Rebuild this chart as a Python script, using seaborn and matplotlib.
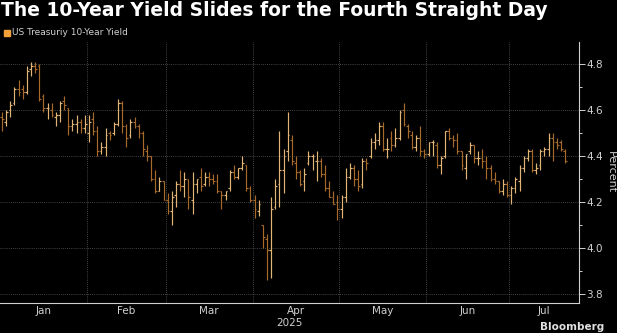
import matplotlib
matplotlib.use("Agg")
import matplotlib.pyplot as plt
from matplotlib.ticker import MultipleLocator, FixedLocator, FormatStrFormatter, NullFormatter
import matplotlib.transforms as mtransforms
import numpy as np
import pandas as pd
import seaborn as sns

# US 10-year Treasury yield, daily OHLC (percent), 2 Jan - 21 Jul 2025
dates = (
    ["2025-01-%02d" % d for d in [2, 3, 6, 7, 8, 9, 10, 13, 14, 15, 16, 17, 21, 22, 23, 24, 27, 28, 29, 30, 31]]
    + ["2025-02-%02d" % d for d in [3, 4, 5, 6, 7, 10, 11, 12, 13, 14, 18, 19, 20, 21, 24, 25, 26, 27, 28]]
    + ["2025-03-%02d" % d for d in [3, 4, 5, 6, 7, 10, 11, 12, 13, 14, 17, 18, 19, 20, 21, 24, 25, 26, 27, 28, 31]]
    + ["2025-04-%02d" % d for d in [1, 2, 3, 4, 7, 8, 9, 10, 11, 14, 15, 16, 17, 21, 22, 23, 24, 25, 28, 29, 30]]
    + ["2025-05-%02d" % d for d in [1, 2, 5, 6, 7, 8, 9, 12, 13, 14, 15, 16, 19, 20, 21, 22, 23, 27, 28, 29, 30]]
    + ["2025-06-%02d" % d for d in [2, 3, 4, 5, 6, 9, 10, 11, 12, 13, 16, 17, 18, 20, 23, 24, 25, 26, 27, 30]]
    + ["2025-07-%02d" % d for d in [1, 2, 3, 7, 8, 9, 10, 11, 14, 15, 16, 17, 18, 21]]
)

opens = [
    4.57, 4.55, 4.60, 4.63, 4.69, 4.69, 4.68, 4.78, 4.79, 4.79, 4.66, 4.61, 4.60, 4.57, 4.58, 4.64, 4.61, 4.53, 4.54, 4.55, 4.52,
    4.50, 4.56, 4.51, 4.42, 4.44, 4.50, 4.50, 4.54, 4.63, 4.53, 4.49, 4.55, 4.53, 4.50, 4.42, 4.40, 4.30, 4.25, 4.29,
    4.21, 4.16, 4.23, 4.28, 4.27, 4.30, 4.21, 4.28, 4.31, 4.28, 4.31, 4.30, 4.29, 4.25, 4.23, 4.26, 4.33, 4.31, 4.35, 4.36, 4.26,
    4.21, 4.16, 4.10, 4.04, 3.99, 4.18, 4.28, 4.34, 4.42, 4.47, 4.37, 4.33, 4.29, 4.37, 4.40, 4.38, 4.38, 4.32, 4.26, 4.22, 4.20,
    4.17, 4.22, 4.31, 4.35, 4.30, 4.28, 4.38, 4.40, 4.46, 4.47, 4.53, 4.43, 4.48, 4.45, 4.48, 4.60, 4.53, 4.49, 4.44, 4.48, 4.42,
    4.41, 4.46, 4.45, 4.36, 4.40, 4.51, 4.48, 4.47, 4.42, 4.35, 4.42, 4.45, 4.39, 4.39, 4.38, 4.35, 4.30, 4.29, 4.25, 4.28,
    4.23, 4.26, 4.29, 4.35, 4.39, 4.42, 4.34, 4.36, 4.42, 4.43, 4.48, 4.46, 4.46, 4.42,
]
highs = [
    4.59, 4.60, 4.64, 4.70, 4.73, 4.71, 4.79, 4.81, 4.81, 4.80, 4.67, 4.63, 4.63, 4.59, 4.64, 4.66, 4.61, 4.56, 4.58, 4.56, 4.58,
    4.58, 4.59, 4.53, 4.46, 4.52, 4.51, 4.55, 4.65, 4.64, 4.54, 4.56, 4.57, 4.54, 4.51, 4.45, 4.40, 4.34, 4.31, 4.29,
    4.24, 4.25, 4.29, 4.34, 4.33, 4.30, 4.33, 4.30, 4.35, 4.33, 4.33, 4.32, 4.32, 4.25, 4.25, 4.34, 4.36, 4.35, 4.40, 4.36, 4.27,
    4.23, 4.21, 4.10, 4.06, 4.22, 4.30, 4.51, 4.43, 4.59, 4.49, 4.40, 4.34, 4.35, 4.42, 4.41, 4.42, 4.39, 4.36, 4.29, 4.25, 4.23,
    4.23, 4.35, 4.37, 4.36, 4.34, 4.39, 4.39, 4.48, 4.50, 4.55, 4.55, 4.48, 4.51, 4.52, 4.60, 4.63, 4.54, 4.51, 4.49, 4.53, 4.43,
    4.46, 4.47, 4.46, 4.40, 4.51, 4.52, 4.49, 4.50, 4.42, 4.41, 4.46, 4.45, 4.42, 4.43, 4.40, 4.36, 4.33, 4.29, 4.30, 4.29,
    4.27, 4.31, 4.36, 4.40, 4.43, 4.43, 4.37, 4.43, 4.44, 4.50, 4.50, 4.48, 4.47, 4.43,
]
lows = [
    4.51, 4.53, 4.57, 4.62, 4.66, 4.65, 4.67, 4.75, 4.76, 4.64, 4.59, 4.56, 4.57, 4.53, 4.55, 4.60, 4.49, 4.51, 4.50, 4.50, 4.50,
    4.46, 4.49, 4.40, 4.41, 4.40, 4.47, 4.49, 4.53, 4.50, 4.44, 4.48, 4.52, 4.48, 4.40, 4.38, 4.29, 4.24, 4.25, 4.21,
    4.15, 4.10, 4.18, 4.25, 4.22, 4.17, 4.15, 4.24, 4.25, 4.27, 4.27, 4.28, 4.24, 4.17, 4.21, 4.25, 4.30, 4.30, 4.34, 4.25, 4.20,
    4.13, 4.14, 4.00, 3.86, 3.87, 4.17, 4.18, 4.24, 4.38, 4.36, 4.30, 4.27, 4.25, 4.36, 4.34, 4.29, 4.31, 4.25, 4.22, 4.19, 4.12,
    4.13, 4.20, 4.30, 4.27, 4.25, 4.26, 4.34, 4.39, 4.43, 4.45, 4.42, 4.39, 4.42, 4.44, 4.47, 4.53, 4.48, 4.43, 4.42, 4.40, 4.39,
    4.40, 4.40, 4.35, 4.32, 4.39, 4.47, 4.44, 4.41, 4.34, 4.30, 4.41, 4.37, 4.36, 4.35, 4.30, 4.29, 4.28, 4.24, 4.23, 4.22,
    4.19, 4.24, 4.25, 4.33, 4.38, 4.33, 4.32, 4.34, 4.40, 4.40, 4.38, 4.43, 4.42, 4.37,
]
closes = [
    4.56, 4.59, 4.62, 4.69, 4.68, 4.68, 4.77, 4.79, 4.78, 4.65, 4.61, 4.61, 4.58, 4.58, 4.63, 4.62, 4.53, 4.54, 4.55, 4.52, 4.54,
    4.55, 4.51, 4.42, 4.44, 4.49, 4.49, 4.54, 4.63, 4.53, 4.48, 4.55, 4.53, 4.50, 4.43, 4.40, 4.30, 4.25, 4.29, 4.21,
    4.16, 4.22, 4.28, 4.27, 4.30, 4.22, 4.28, 4.30, 4.27, 4.31, 4.30, 4.29, 4.25, 4.23, 4.25, 4.33, 4.31, 4.35, 4.37, 4.26, 4.21,
    4.17, 4.19, 4.05, 3.99, 4.17, 4.27, 4.34, 4.40, 4.49, 4.38, 4.33, 4.28, 4.32, 4.40, 4.40, 4.38, 4.32, 4.26, 4.22, 4.19, 4.17,
    4.22, 4.31, 4.35, 4.30, 4.27, 4.38, 4.37, 4.46, 4.47, 4.53, 4.43, 4.43, 4.45, 4.48, 4.59, 4.54, 4.51, 4.44, 4.48, 4.42, 4.41,
    4.46, 4.46, 4.36, 4.39, 4.51, 4.48, 4.47, 4.42, 4.36, 4.41, 4.45, 4.39, 4.39, 4.38, 4.35, 4.30, 4.29, 4.25, 4.28, 4.23,
    4.26, 4.30, 4.35, 4.39, 4.42, 4.34, 4.35, 4.42, 4.43, 4.48, 4.46, 4.45, 4.43, 4.38,
]

month_names = ["Jan", "Feb", "Mar", "Apr", "May", "Jun", "Jul"]
y_ticks = [3.8, 4.0, 4.2, 4.4, 4.6, 4.8]

df = pd.DataFrame({"date": pd.to_datetime(dates), "open": opens, "high": highs,
                   "low": lows, "close": closes})
df["pos"] = np.arange(len(df))
df["month"] = df["date"].dt.month
df["direction"] = np.where(df["close"] >= df["open"], "up", "down")

BG = "#000000"
FG = "#d0d0d0"
UP = "#e2b577"
DOWN = "#a86a28"

sns.set_theme(style="dark", rc={
    "figure.facecolor": BG, "axes.facecolor": BG, "savefig.facecolor": BG,
    "axes.edgecolor": FG, "text.color": FG, "xtick.color": FG, "ytick.color": FG,
    "axes.labelcolor": FG, "grid.color": "#555555",
})
plt.rcParams["font.family"] = ["DejaVu Sans"]

fig = plt.figure(figsize=(6.17, 3.33), dpi=100)
ax = fig.add_axes([0.0, 0.0901, 0.9384, 0.7838])

# High-low ranges as vertical strokes, open/close as side ticks
palette = {"up": UP, "down": DOWN}
tick_w = 0.42
for direction, grp in df.groupby("direction"):
    c = palette[direction]
    ax.vlines(grp["pos"], grp["low"], grp["high"], colors=c, lw=0.85)
    ax.hlines(grp["open"], grp["pos"] - tick_w, grp["pos"], colors=c, lw=0.85)
    ax.hlines(grp["close"], grp["pos"], grp["pos"] + tick_w, colors=c, lw=0.85)

ax.set_xlim(-0.5, 139.35)
ax.set_ylim(3.761, 4.8957)

# Month boundaries carry the gridlines; month names sit between them
starts = df.groupby("month")["pos"].min().values
bounds = [s - 0.5 for s in starts[1:]]
ends = list(starts[1:]) + [139.6]
centers = [(s + e) / 2 - 0.5 for s, e in zip(starts, ends)]
ax.xaxis.set_major_locator(FixedLocator(bounds))
ax.xaxis.set_major_formatter(NullFormatter())
ax.xaxis.set_minor_locator(FixedLocator(centers))
ax.set_xticks(centers, month_names, minor=True)
ax.tick_params(axis="x", which="major", length=3.5, width=0.7, direction="out", color=FG)
ax.tick_params(axis="x", which="minor", length=0, pad=2.5, labelsize=7.5, labelcolor=FG)

ax.yaxis.tick_right()
ax.yaxis.set_label_position("right")
ax.yaxis.set_major_locator(FixedLocator(y_ticks))
ax.yaxis.set_major_formatter(FormatStrFormatter("%.1f"))
ax.yaxis.set_minor_locator(MultipleLocator(0.1))
ax.tick_params(axis="y", which="major", length=4, width=0.7, pad=1.5, labelsize=7.5, labelcolor=FG)
ax.tick_params(axis="y", which="minor", length=2.5, width=0.7)
ax.set_ylabel("Percent", rotation=270, labelpad=9, fontsize=8)

ax.grid(True, which="major", axis="both", linestyle=(0, (1, 1.5)), linewidth=0.6, color="#5a5a5a")
ax.set_axisbelow(True)

for side in ["left", "top"]:
    ax.spines[side].set_visible(False)
for side in ["right", "bottom"]:
    ax.spines[side].set_color(FG)
    ax.spines[side].set_linewidth(0.8)

# Year under the month labels
trans = mtransforms.blended_transform_factory(ax.transData, fig.transFigure)
ax.text(69.3, 1 - 323 / 333, "2025", transform=trans, ha="center", va="center",
        fontsize=7.5, color=FG)

fig.text(0.001, 1 - 10 / 333, "The 10-Year Yield Slides for the Fourth Straight Day",
         fontsize=13.5, fontweight="bold", color="white", va="center", ha="left")
fig.patches.append(plt.Rectangle((4 / 617, 1 - 36 / 333), 6 / 617, 6 / 333,
                                 transform=fig.transFigure, color="#f5a23a", zorder=5))
fig.text(12 / 617, 1 - 32.5 / 333, "US Treasuriy 10-Year Yield", fontsize=6.5,
         color=FG, va="center", ha="left")
fig.text(540 / 617, 1 - 332 / 333, "Bloomberg", fontsize=7.5, fontweight="bold",
         color="#e0e0e0", va="bottom", ha="left")

fig.savefig("out.png", dpi=100, facecolor=BG)
